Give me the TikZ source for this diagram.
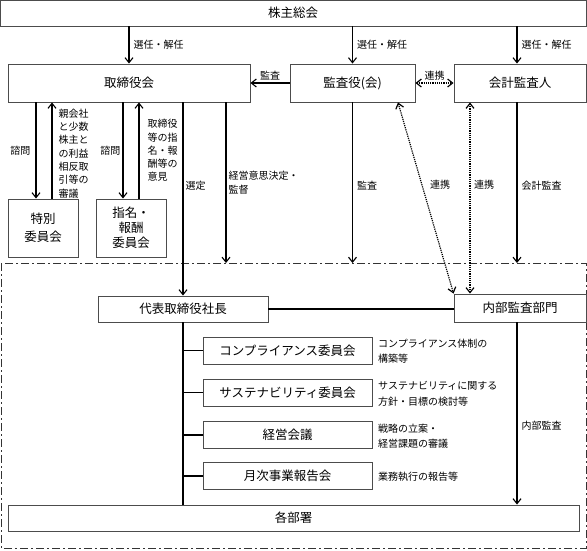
\documentclass[tikz,border=0pt]{standalone}
\usepackage{fontspec}
\setmainfont{Noto Sans CJK JP}
\usetikzlibrary{arrows.meta}
\begin{document}
\begin{tikzpicture}[x=1pt,y=-1pt,
  box/.style={draw=black!70, line width=0.9pt, fill=white, inner sep=0pt, font=\fontsize{12.5}{15}\selectfont, align=center},
  lbl/.style={font=\fontsize{10}{12}\selectfont, inner sep=2pt},
  vlbl/.style={font=\fontsize{10}{13.3}\selectfont, inner sep=2pt, align=left},
  desc/.style={font=\fontsize{10}{15.5}\selectfont, inner sep=0pt, align=left, anchor=west},
  arr/.style={line width=1.1pt, -{Straight Barb[length=5pt,width=8pt]}},
  ln/.style={line width=1.1pt},
  dot/.style={line width=1.2pt, dash pattern=on 1.2pt off 1pt, {Straight Barb[length=5pt,width=8pt]}-{Straight Barb[length=5pt,width=8pt]}},
  frame/.style={draw=black!80, line width=1pt, dash pattern=on 8pt off 3pt on 2pt off 3pt}
]
\useasboundingbox (0,0) rectangle (587,550);
\draw[frame] (1,263) rectangle (586,548);
\coordinate (ftop) at (0,263);

\node[box, minimum width=586pt, minimum height=26pt] (kabu) at (293,13) {株主総会};
\node[box, minimum width=242pt, minimum height=38pt] (tb) at (129,83) {取締役会};
\node[box, minimum width=125pt, minimum height=38pt] (ka) at (352.5,83) {監査役(会)};
\node[box, minimum width=132pt, minimum height=38pt] (kk) at (520,83) {会計監査人};
\node[box, minimum width=70pt, minimum height=58pt, font=\fontsize{12.5}{18}\selectfont] (toku) at (43,228) {特別\\委員会};
\node[box, minimum width=70pt, minimum height=58pt, font=\fontsize{12.5}{15}\selectfont] (shi) at (131,228) {指名・\\報酬\\委員会};

\node[box, minimum width=170pt, minimum height=26pt] (dai) at (183,309) {代表取締役社長};
\node[box, minimum width=132pt, minimum height=28pt] (nai) at (520,308) {内部監査部門};
\node[box, minimum width=169pt, minimum height=27pt] (c1) at (287.5,350.5) {コンプライアンス委員会};
\node[box, minimum width=169pt, minimum height=27pt] (c2) at (287.5,392.5) {サステナビリティ委員会};
\node[box, minimum width=169pt, minimum height=27pt] (c3) at (287.5,435) {経営会議};
\node[box, minimum width=169pt, minimum height=27pt] (c4) at (287.5,476) {月次事業報告会};
\node[box, minimum width=571pt, minimum height=26pt] (kb) at (293.5,518) {各部署};

\node[desc] (d1) at (378,351) {コンプライアンス体制の\\構築等};
\node[desc] (d2) at (378,394) {サステナビリティに関する\\方針・目標の検討等};
\node[desc] (d3) at (378,436) {戦略の立案・\\経営課題の審議};
\node[desc] (d4) at (378,477) {業務執行の報告等};

% top arrows
\draw[arr] (kabu.south -| tb.north) -- (tb.north) node[midway,right,lbl,xshift=2pt]{選任・解任};
\draw[arr] (kabu.south -| ka.north) -- (ka.north) node[midway,right,lbl,xshift=2pt]{選任・解任};
\draw[arr] ([xshift=-3pt]kk.north |- kabu.south) -- ([xshift=-3pt]kk.north) node[midway,right,lbl,xshift=2pt]{選任・解任};
\draw[arr] (ka.west) -- (tb.east) node[midway,above,lbl]{監査};
\draw[dot] (ka.east) -- (kk.west) node[midway,above,lbl]{連携};

% committees under board
\draw[arr] ([xshift=-7pt]toku.north |- tb.south) -- ([xshift=-7pt]toku.north) node[midway,left,lbl,xshift=-3pt]{諮問};
\draw[arr] ([xshift=9pt]toku.north) -- ([xshift=9pt]toku.north |- tb.south) node[midway,right,vlbl,xshift=4pt,yshift=-3pt]{親会社\\と少数\\株主と\\の利益\\相反取\\引等の\\審議};
\draw[arr] ([xshift=-8pt]shi.north |- tb.south) -- ([xshift=-8pt]shi.north) node[midway,left,lbl]{諮問};
\draw[arr] ([xshift=8pt]shi.north) -- ([xshift=8pt]shi.north |- tb.south) node[midway,right,vlbl,xshift=6pt]{取締役\\等の指\\名・報\\酬等の\\意見};

\draw[arr] (dai.north |- tb.south) -- (dai.north) node[pos=0.43,right,lbl]{選定};
\coordinate (f1) at (226,263);
\draw[arr] (tb.south -| f1) -- (f1) node[midway,right,vlbl]{経営意思決定・\\監督};
\draw[arr] (ka.south) -- (ka.south |- ftop) node[pos=0.52,right,lbl,xshift=2pt]{監査};
\draw[arr] ([xshift=-3pt]kk.south) -- ([xshift=-3pt]kk.south |- ftop) node[pos=0.52,right,lbl,xshift=2pt]{会計監査};
\draw[dot] ([xshift=45.5pt]ka.south) -- (nai.north west);
\draw[dot] ([xshift=-50pt]kk.south) -- ([xshift=-50pt]kk.south |- nai.north);
\node[lbl] (r1) at (440,185) {連携};
\node[lbl] (r2) at (484,185) {連携};

% lower part
\draw[ln] (dai.east) -- (dai.east -| nai.west);
\draw[ln] (dai.south) -- (dai.south |- kb.north);
\foreach \c in {c1,c2,c3,c4} { \draw[ln] (\c.west -| dai.south) -- (\c.west); }
\draw[arr] ([xshift=-3pt]nai.south) -- ([xshift=-3pt]nai.south |- kb.north) node[pos=0.565,right,lbl,xshift=2pt]{内部監査};
\end{tikzpicture}
\end{document}
